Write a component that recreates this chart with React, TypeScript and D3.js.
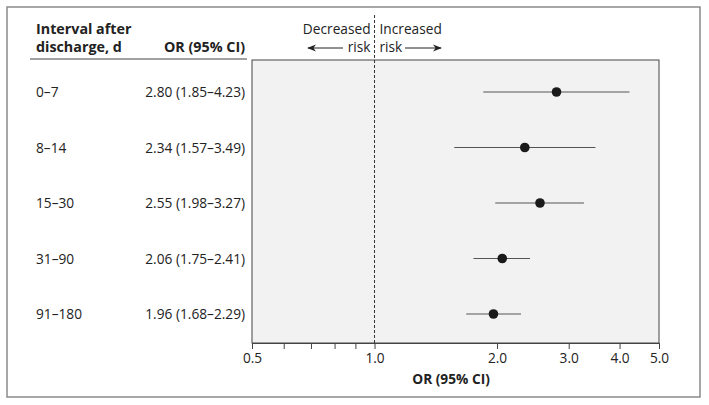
import React, { useEffect, useRef } from 'react';
import * as d3 from 'd3';

const intervals = ['0–7', '8–14', '15–30', '31–90', '91–180'];
const orValues = [2.8, 2.34, 2.55, 2.06, 1.96];
const ciLow = [1.85, 1.57, 1.98, 1.75, 1.68];
const ciHigh = [4.23, 3.49, 3.27, 2.41, 2.29];
const majorTicks = [0.5, 1, 2, 3, 4, 5];
const minorTicks = [0.6, 0.7, 0.8, 0.9];

const FONT = '"Open Sans", "DejaVu Sans", sans-serif';
const FS = 13.7;

function App() {
  const svgRef = useRef<SVGSVGElement>(null);

  useEffect(() => {
    const svg = d3.select(svgRef.current);
    svg.selectAll('*').remove();

    // outer frame
    svg.append('rect')
      .attr('x', 7).attr('y', 7)
      .attr('width', 693).attr('height', 390)
      .attr('fill', 'white')
      .attr('stroke', '#8a8a8a')
      .attr('stroke-width', 1.5);

    const plot = { left: 252, right: 659, top: 60, bottom: 343 };

    const x = d3.scaleLog().domain([0.5, 5]).range([plot.left, plot.right]);
    const y = d3.scalePoint<string>()
      .domain(intervals)
      .range([92, 314]);

    // plot background
    svg.append('rect')
      .attr('x', plot.left).attr('y', plot.top)
      .attr('width', plot.right - plot.left)
      .attr('height', plot.bottom - plot.top)
      .attr('fill', '#f2f2f2')
      .attr('stroke', '#444')
      .attr('stroke-width', 1);

    // axis
    const axis = svg.append('g')
      .attr('transform', `translate(0,${plot.bottom})`)
      .call(d3.axisBottom(x)
        .tickValues(majorTicks)
        .tickFormat(d => d3.format('.1f')(d as number))
        .tickSize(6)
        .tickPadding(4));
    axis.select('.domain').attr('stroke', '#444');
    axis.selectAll('.tick line').attr('stroke', '#444');
    axis.selectAll('text')
      .attr('font-family', FONT)
      .attr('font-size', FS)
      .attr('fill', '#222');

    svg.append('g')
      .selectAll('line')
      .data(minorTicks)
      .enter().append('line')
      .attr('x1', d => x(d)).attr('x2', d => x(d))
      .attr('y1', plot.bottom).attr('y2', plot.bottom + 6)
      .attr('stroke', '#444');

    svg.append('text')
      .attr('x', x(2) - 46).attr('y', 384)
      .attr('text-anchor', 'middle')
      .attr('font-family', FONT)
      .attr('font-weight', 'bold')
      .attr('font-size', FS)
      .attr('fill', '#222')
      .text('OR (95% CI)');

    // reference line at 1.0
    svg.append('line')
      .attr('x1', x(1)).attr('x2', x(1))
      .attr('y1', 15).attr('y2', plot.bottom)
      .attr('stroke', '#333')
      .attr('stroke-dasharray', '3,2');

    // arrow marker
    const defs = svg.append('defs');
    defs.append('marker')
      .attr('id', 'arrow')
      .attr('viewBox', '0 0 10 10')
      .attr('refX', 9).attr('refY', 5)
      .attr('markerWidth', 9).attr('markerHeight', 9)
      .attr('markerUnits', 'userSpaceOnUse')
      .attr('orient', 'auto')
      .append('path')
      .attr('d', 'M0,1 L10,5 L0,9 L3,5 Z')
      .attr('fill', '#222');

    const txt = (tx: number, ty: number, s: string, anchor: string, bold = false) =>
      svg.append('text')
        .attr('x', tx).attr('y', ty)
        .attr('text-anchor', anchor)
        .attr('font-family', FONT)
        .attr('font-size', bold ? 14.3 : FS)
        .attr('font-weight', bold ? 'bold' : 'normal')
        .attr('fill', '#222')
        .text(s);

    txt(x(1) - 4, 34, 'Decreased', 'end');
    txt(x(1) - 4, 52, 'risk', 'end');
    txt(x(1) + 5, 34, 'Increased', 'start');
    txt(x(1) + 5, 52, 'risk', 'start');

    svg.append('line')
      .attr('x1', 343).attr('y1', 48).attr('x2', 308).attr('y2', 48)
      .attr('stroke', '#222').attr('marker-end', 'url(#arrow)');
    svg.append('line')
      .attr('x1', 405).attr('y1', 48).attr('x2', 441).attr('y2', 48)
      .attr('stroke', '#222').attr('marker-end', 'url(#arrow)');

    // table header
    txt(36, 34, 'Interval after', 'start', true);
    txt(36, 52, 'discharge, d', 'start', true);
    txt(245, 52, 'OR (95% CI)', 'end', true);
    svg.append('line')
      .attr('x1', 30).attr('x2', 247)
      .attr('y1', 59).attr('y2', 59)
      .attr('stroke', '#444');

    // rows
    const rows = svg.append('g')
      .selectAll('g')
      .data(intervals)
      .enter().append('g');

    rows.append('text')
      .attr('x', 36).attr('y', d => (y(d) as number) + 5)
      .attr('font-family', FONT).attr('font-size', FS).attr('fill', '#222')
      .text(d => d);

    rows.append('text')
      .attr('x', 245).attr('y', d => (y(d) as number) + 5)
      .attr('text-anchor', 'end')
      .attr('font-family', FONT).attr('font-size', FS).attr('fill', '#222')
      .text((d, i) => `${orValues[i].toFixed(2)} (${ciLow[i].toFixed(2)}–${ciHigh[i].toFixed(2)})`);

    rows.append('line')
      .attr('x1', (d, i) => x(ciLow[i]))
      .attr('x2', (d, i) => x(ciHigh[i]))
      .attr('y1', d => y(d) as number)
      .attr('y2', d => y(d) as number)
      .attr('stroke', '#555')
      .attr('stroke-width', 1.2);

    rows.append('circle')
      .attr('cx', (d, i) => x(orValues[i]))
      .attr('cy', d => y(d) as number)
      .attr('r', 4.8)
      .attr('fill', '#1a1a1a');
  }, []);

  return (
    <svg ref={svgRef} width={709} height={405} style={{ position: 'absolute', left: 0, top: 0 }}></svg>
  );
}

export default App;
